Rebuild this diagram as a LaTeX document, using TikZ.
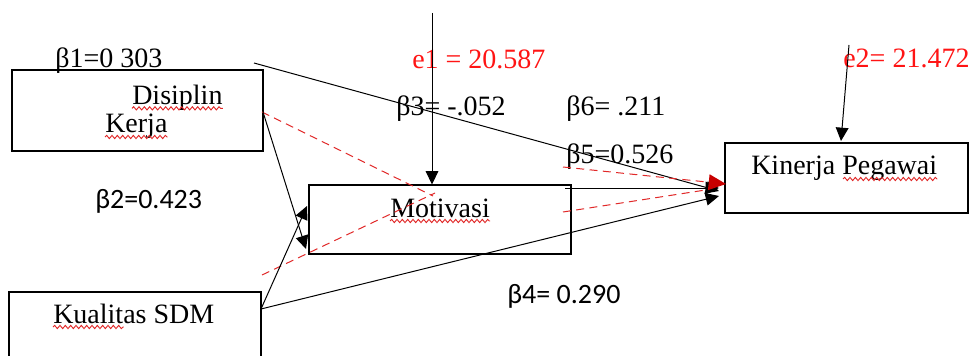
\documentclass[tikz,border=0pt]{standalone}
\usepackage{fontspec}
\setmainfont{Liberation Serif}
\newfontfamily\calib{Carlito}
\usetikzlibrary{arrows.meta,decorations.pathmorphing}
\definecolor{redtxt}{RGB}{255,20,20}
\definecolor{reddash}{RGB}{225,40,40}
\definecolor{redhead}{RGB}{200,0,0}
\tikzset{
  box/.style={draw=black,line width=0.8pt,inner sep=0pt},
  lbl/.style={inner sep=0pt,anchor=base west,font=\fontsize{21}{25}\selectfont},
  lblc/.style={lbl,font=\calib\fontsize{21}{25}\selectfont},
  lblr/.style={lbl,text=redtxt},
  arr/.style={line width=0.75pt,-{Triangle[length=10pt,width=9.5pt]}},
  rdash/.style={draw=reddash,line width=0.75pt,dash pattern=on 6pt off 4pt},
  redtip/.style={-{Triangle[length=13pt,width=12pt,color=redhead,fill=redhead,line width=0pt]}},
  wavy/.style={draw=reddash,line width=0.7pt,decorate,decoration={snake,amplitude=1.2pt,segment length=4pt}}
}
\begin{document}
\begin{tikzpicture}[x=0.75pt,y=-0.75pt]
\useasboundingbox (0,0) rectangle (970,356);
\fill[white] (0,0) rectangle (970,356);
% boxes
\node[box,minimum width=251*0.75pt,minimum height=81*0.75pt] (dis) at (137.5,110.5) {};
\node[box,minimum width=262*0.75pt,minimum height=69*0.75pt] (mot) at (440,219.5) {};
\node[box,minimum width=243*0.75pt,minimum height=70*0.75pt] (kin) at (846.5,178) {};
\node[box,minimum width=252*0.75pt,minimum height=80*0.75pt] (kua) at (135,332) {};
% box texts
\node[lbl] (disT) at (132,105) {Disiplin};
\node[lbl] (kerT) at (105,133) {Kerja};
\node[lbl] (motT) at (390,217) {Motivasi};
\node[lbl] (kinT) at (751,175) {Kinerja Pegawai};
\node[lbl] (kuaT) at (53,323) {Kualitas SDM};
% labels
\node[lbl] (b1) at (55,68) {β1=0 303};
\node[lblr] (e1) at (412,69) {e1 = 20.587};
\node[lbl] (b3) at (396,116) {β3= -.052};
\node[lbl] (b6) at (566,116) {β6= .211};
\node[lbl] (b5) at (566,163) {β5=0.526};
\node[lblr] (e2) at (843,68) {e2= 21.472};
\node[lblc] (b2) at (95,208) {β2=0.423};
\node[lblc] (b4) at (507,303) {β4= 0.290};
% coordinates
\coordinate (e1top) at (432,13);
\coordinate (e2top) at (849,45);
\coordinate (e2end) at (841,141);
\coordinate (b1s) at (254,63);
\coordinate (tipA) at (719,191);
\coordinate (tipB) at (719,196);
\coordinate (tipC) at (719,188);
\coordinate (disR) at (263,112);
\coordinate (motA) at (306,249);
\coordinate (kuaR) at (261,309);
\coordinate (motB) at (307,206);
\coordinate (motR) at (565,188);
\coordinate (rA1) at (262,112);
\coordinate (rA2) at (433,196);
\coordinate (rB1) at (262,275);
\coordinate (rB2) at (435,193);
\coordinate (rC1) at (563,167);
\coordinate (rC2) at (726,184);
\coordinate (rD1) at (563,212);
\coordinate (rD2) at (712,189);
% red dashed
\draw[rdash] (rA1) -- (rA2);
\draw[rdash] (rB1) -- (rB2);
\draw[rdash] (rD1) -- (rD2);
% black connectors
\draw[arr] (e1top) -- (e1top |- mot.north);
\draw[arr] (e2top) -- (e2end);
\draw[arr] (b1s) -- (tipA);
\draw[arr] (disR) -- (motA);
\draw[arr] (kuaR) -- (motB);
\draw[arr] (kuaR) -- (tipB);
\draw[arr] (motR) -- (tipC);
% red arrow on top
\draw[rdash,redtip] (rC1) -- (rC2);
% spell-check underlines
\draw[wavy] ([yshift=-2.5pt]disT.base west) -- ([yshift=-2.5pt]disT.base east);
\draw[wavy] ([yshift=-3pt]kerT.base west) -- ([yshift=-3pt]kerT.base east);
\draw[wavy] ([yshift=-3pt]motT.base west) -- ([yshift=-3pt]motT.base east);
\draw[wavy] ([yshift=-3pt]kuaT.base west) -- ([yshift=-3pt,xshift=-68pt]kuaT.base east);
\draw[wavy] ([yshift=-3pt,xshift=69pt]kinT.base west) -- ([yshift=-3pt]kinT.base east);
\end{tikzpicture}
\end{document}
